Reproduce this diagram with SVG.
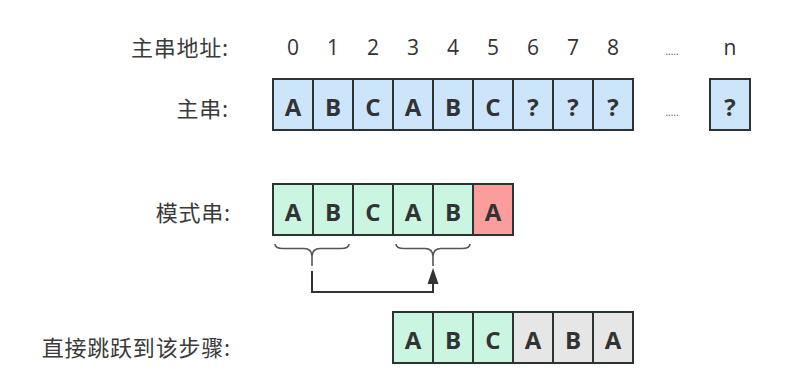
<svg xmlns="http://www.w3.org/2000/svg" width="812" height="390" viewBox="0 0 812 390">
<style>
.lbl{font-family:"Noto Sans CJK SC","Open Sans",sans-serif;font-size:22px;letter-spacing:0.8px;fill:#3a3a3a;text-anchor:end}
.idx{font-family:"Open Sans","Noto Sans",sans-serif;font-size:21px;fill:#333;text-anchor:middle}
.dots{font-family:"Open Sans",sans-serif;font-size:10px;fill:#555;text-anchor:middle}
.ch{font-family:"Open Sans","Noto Sans",sans-serif;font-size:24px;font-weight:bold;fill:#333;text-anchor:middle}
.c{stroke:#2b3333;stroke-width:2}
.blue{fill:#cce5fb}
.green{fill:#c9f5e1}
.red{fill:#fb9d9d}
.grey{fill:#e6e6e6}
.brace{fill:none;stroke:#555;stroke-width:1.6}
.conn{fill:none;stroke:#333;stroke-width:2}
</style>
<rect width="812" height="390" fill="#fff"/>
<g id="labels">
<text class="lbl" x="229" y="56">主串地址:</text>
<text class="lbl" x="229" y="117">主串:</text>
<text class="lbl" x="231" y="221">模式串:</text>
<text class="lbl" x="231" y="356">直接跳跃到该步骤:</text>
</g>
<g id="addresses">
<text class="idx" x="293" y="55">0</text>
<text class="idx" x="333" y="55">1</text>
<text class="idx" x="373" y="55">2</text>
<text class="idx" x="413" y="55">3</text>
<text class="idx" x="453" y="55">4</text>
<text class="idx" x="493" y="55">5</text>
<text class="idx" x="533" y="55">6</text>
<text class="idx" x="573" y="55">7</text>
<text class="idx" x="613" y="55">8</text>
<text class="dots" x="672" y="55">.....</text>
<text class="idx" x="730" y="55">n</text>
</g>
<g id="main-string">
<rect class="c blue" x="273" y="79" width="40" height="51"/>
<rect class="c blue" x="313" y="79" width="40" height="51"/>
<rect class="c blue" x="353" y="79" width="40" height="51"/>
<rect class="c blue" x="393" y="79" width="40" height="51"/>
<rect class="c blue" x="433" y="79" width="40" height="51"/>
<rect class="c blue" x="473" y="79" width="40" height="51"/>
<rect class="c blue" x="513" y="79" width="40" height="51"/>
<rect class="c blue" x="553" y="79" width="40" height="51"/>
<rect class="c blue" x="593" y="79" width="40" height="51"/>
<rect class="c blue" x="710" y="79" width="40" height="51"/>
<text class="ch" x="293" y="116">A</text>
<text class="ch" x="333" y="116">B</text>
<text class="ch" x="373" y="116">C</text>
<text class="ch" x="413" y="116">A</text>
<text class="ch" x="453" y="116">B</text>
<text class="ch" x="493" y="116">C</text>
<text class="ch" x="533" y="116">?</text>
<text class="ch" x="573" y="116">?</text>
<text class="ch" x="613" y="116">?</text>
<text class="dots" x="672" y="116">.....</text>
<text class="ch" x="730" y="116">?</text>
</g>
<g id="pattern">
<rect class="c green" x="273" y="184" width="40" height="51"/>
<rect class="c green" x="313" y="184" width="40" height="51"/>
<rect class="c green" x="353" y="184" width="40" height="51"/>
<rect class="c green" x="393" y="184" width="40" height="51"/>
<rect class="c green" x="433" y="184" width="40" height="51"/>
<rect class="c red" x="473" y="184" width="40" height="51"/>
<text class="ch" x="293" y="221">A</text>
<text class="ch" x="333" y="221">B</text>
<text class="ch" x="373" y="221">C</text>
<text class="ch" x="413" y="221">A</text>
<text class="ch" x="453" y="221">B</text>
<text class="ch" x="493" y="221">A</text>
</g>
<g id="braces">
<path class="brace" d="M275,244 Q275,248.5 283,248.5 L304,248.5 Q312,248.5 312,257 L312,266 M312,257 Q312,248.5 320,248.5 L341,248.5 Q349,248.5 349,244"/>
<path class="brace" d="M396,244 Q396,248.5 404,248.5 L425,248.5 Q433,248.5 433,257 L433,266 M433,257 Q433,248.5 441,248.5 L462,248.5 Q470,248.5 470,244"/>
</g>
<g id="connectors">
<path class="conn" d="M312,271 L312,292 L433,292 L433,283"/>
<polygon points="433,268 427.5,284 438.5,284" fill="#333"/>
</g>
<g id="jump-step">
<rect class="c green" x="393" y="312" width="40" height="51"/>
<rect class="c green" x="433" y="312" width="40" height="51"/>
<rect class="c green" x="473" y="312" width="40" height="51"/>
<rect class="c grey" x="513" y="312" width="40" height="51"/>
<rect class="c grey" x="553" y="312" width="40" height="51"/>
<rect class="c grey" x="593" y="312" width="40" height="51"/>
<text class="ch" x="413" y="349">A</text>
<text class="ch" x="453" y="349">B</text>
<text class="ch" x="493" y="349">C</text>
<text class="ch" x="533" y="349">A</text>
<text class="ch" x="573" y="349">B</text>
<text class="ch" x="613" y="349">A</text>
</g>
</svg>
